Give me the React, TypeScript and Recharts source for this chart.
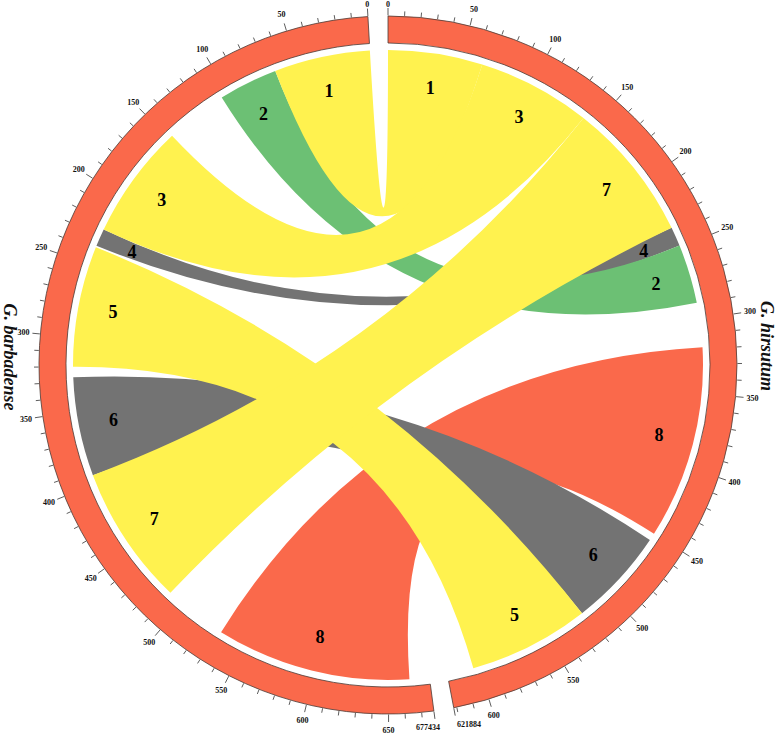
import React from "react";
import { PieChart, Pie, Cell, Customized, Layer } from "recharts";

const GENOME_NAMES = ["G. hirsutum", "G. barbadense"];
const GENOME_SIZES = [621884, 677434];

const HIRS_TICK_LABELS = [0, 50, 100, 150, 200, 250, 300, 350, 400, 450, 500, 550, 600];
const BARB_TICK_LABELS = [0, 50, 100, 150, 200, 250, 300, 350, 400, 450, 500, 550, 600, 650];

// links between the two genomes, positions in kb
const LINK_IDS = ["1", "2", "3", "4", "5", "6", "7", "8"];
const LINK_COLORS = ["#FFF24F", "#6CC074", "#FFF24F", "#737373", "#FFF24F", "#737373", "#FFF24F", "#FA694B"];
const BARB_FROM = [0, 65, 147, 225, 238, 327, 394, 532];
const BARB_TO = [65, 105, 225, 237, 320, 394, 489, 664];
const HIRS_FROM = [0, 249, 64, 236, 522, 455, 141, 319];
const HIRS_TO = [64, 289, 141, 249, 604, 522, 236, 450];
const DRAW_ORDER = [7, 5, 3, 1, 0, 2, 4, 6];

const W = 778;
const H = 736;
const CX = 388;
const CY = 365;
const R_OUT = 349;
const R_IN = 322;
const R_LINK = 315;
const R_TEXT = 280;
const PAD = 3.3;
const RING = "#FA694B";
const SERIF = "'Liberation Serif', 'Times New Roman', serif";

const TOTAL = GENOME_SIZES[0] + GENOME_SIZES[1];
const DEG = (360 - 2 * PAD) / TOTAL; // degrees per bp, same split the Pie uses

// clockwise degrees from 12 o'clock
const hirsAngle = (kb: number) => kb * 1000 * DEG;
const barbAngle = (kb: number) => 360 - PAD - kb * 1000 * DEG;

const pt = (a: number, r: number) => {
  const t = (a * Math.PI) / 180;
  return [CX + r * Math.sin(t), CY - r * Math.cos(t)];
};

const f = (p: number[]) => `${p[0].toFixed(2)},${p[1].toFixed(2)}`;

function ribbonPath(i: number) {
  const s0 = hirsAngle(HIRS_FROM[i]);
  const s1 = hirsAngle(HIRS_TO[i]);
  const t0 = barbAngle(BARB_TO[i]);
  const t1 = barbAngle(BARB_FROM[i]);
  const r = R_LINK;
  const c = f([CX, CY]);
  return (
    `M${f(pt(s0, r))} A${r},${r} 0 0 1 ${f(pt(s1, r))} ` +
    `Q${c} ${f(pt(t0, r))} ` +
    `A${r},${r} 0 0 1 ${f(pt(t1, r))} ` +
    `Q${c} ${f(pt(s0, r))} Z`
  );
}

function tickMarks(
  size: number,
  angle: (kb: number) => number,
  labels: number[],
  key: string,
  endShift: number
) {
  const out: React.ReactNode[] = [];
  const kbMax = size / 1000;
  const stops: number[] = [];
  for (let v = 0; v <= kbMax; v += 10) stops.push(v);
  stops.push(kbMax);
  stops.forEach((v, j) => {
    const major = v % 50 === 0 || v === kbMax;
    const a = angle(v);
    const p1 = pt(a, R_OUT + 0.5);
    const p2 = pt(a, R_OUT + (major ? 8 : 5));
    out.push(
      <line key={`${key}-t${j}`} x1={p1[0]} y1={p1[1]} x2={p2[0]} y2={p2[1]} stroke="#333" strokeWidth={0.8} />
    );
  });
  const texts = [
    ...labels.map((v) => ({ v, s: String(v), dx: 0 })),
    { v: kbMax, s: String(size), dx: endShift },
  ];
  texts.forEach(({ v, s, dx }, j) => {
    const a = angle(v);
    const p = pt(a, v === 0 ? 361 : 366);
    out.push(
      <text
        key={`${key}-l${j}`}
        x={p[0] + dx}
        y={p[1]}
        textAnchor="middle"
        dominantBaseline="central"
        fontFamily={SERIF}
        fontWeight="bold"
        fontSize={8}
        fill="#111"
      >
        {s}
      </text>
    );
  });
  return out;
}

function Overlay() {
  return (
    <Layer>
      {DRAW_ORDER.map((i) => (
        <path key={`rib${i}`} d={ribbonPath(i)} fill={LINK_COLORS[i]} stroke="none" />
      ))}
      {LINK_IDS.map((id, i) => {
        const pl = pt(barbAngle((BARB_FROM[i] + BARB_TO[i]) / 2), R_TEXT);
        const pr = pt(hirsAngle((HIRS_FROM[i] + HIRS_TO[i]) / 2), R_TEXT);
        return (
          <g key={`lab${id}`} fontFamily={SERIF} fontWeight="bold" fontSize={18} fill="#000">
            <text x={pl[0]} y={pl[1]} textAnchor="middle" dominantBaseline="central">
              {id}
            </text>
            <text x={pr[0]} y={pr[1]} textAnchor="middle" dominantBaseline="central">
              {id}
            </text>
          </g>
        );
      })}
      {tickMarks(GENOME_SIZES[0], hirsAngle, HIRS_TICK_LABELS, "h", 12)}
      {tickMarks(GENOME_SIZES[1], barbAngle, BARB_TICK_LABELS, "b", -8)}
      <text
        x={767}
        y={346}
        transform="rotate(90 767 346)"
        textAnchor="middle"
        dominantBaseline="central"
        fontFamily={SERIF}
        fontWeight="bold"
        fontStyle="italic"
        fontSize={18}
        fill="#111"
      >
        {GENOME_NAMES[0]}
      </text>
      <text
        x={10}
        y={357}
        transform="rotate(90 10 357)"
        textAnchor="middle"
        dominantBaseline="central"
        fontFamily={SERIF}
        fontWeight="bold"
        fontStyle="italic"
        fontSize={18}
        fill="#111"
      >
        {GENOME_NAMES[1]}
      </text>
    </Layer>
  );
}

export default function App() {
  const ring = GENOME_NAMES.map((name, i) => ({ name, size: GENOME_SIZES[i] }));
  return (
    <div style={{ position: "absolute", left: 0, top: 0, width: W, height: H, background: "#fff" }}>
      <PieChart width={W} height={H} margin={{ top: 0, right: 0, bottom: 0, left: 0 }}>
        <Pie
          data={ring}
          dataKey="size"
          nameKey="name"
          cx={CX}
          cy={CY}
          innerRadius={R_IN}
          outerRadius={R_OUT}
          startAngle={90}
          endAngle={-270}
          paddingAngle={PAD}
          stroke="#4a3a35"
          strokeWidth={0.8}
          label={false}
          labelLine={false}
          isAnimationActive={false}
        >
          {ring.map((d) => (
            <Cell key={d.name} fill={RING} />
          ))}
        </Pie>
        <Customized component={<Overlay />} />
      </PieChart>
    </div>
  );
}
